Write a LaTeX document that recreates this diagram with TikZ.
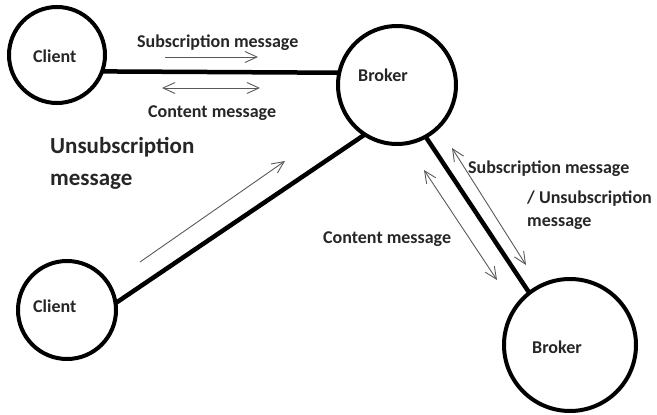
\documentclass[tikz,border=0pt]{standalone}
\usepackage{fontspec}
\setmainfont{Carlito}
\usetikzlibrary{arrows.meta}
\begin{document}
\begin{tikzpicture}[x=1pt,y=-1pt,
  peer/.style={circle,draw=black,line width=4pt,inner sep=0pt,outer sep=0pt},
  link/.style={line width=4.5pt,draw=black},
  msg/.style={draw=black!65,line width=0.9pt},
  fwd/.style={msg,-{Straight Barb[length=12pt,width=11pt]}},
  both/.style={msg,{Straight Barb[length=12pt,width=11pt]}-{Straight Barb[length=12pt,width=11pt]}},
  lbl/.style={anchor=base west,inner sep=0pt,font=\fontsize{18}{20}\selectfont\bfseries,text=black!85},
  biglbl/.style={anchor=base west,inner sep=0pt,font=\fontsize{23}{32}\selectfont\bfseries,text=black!85,align=left}
]
\useasboundingbox (0,0) rectangle (657,415);

% nodes
\node[peer,minimum size=96pt] (c1) at (57,55) {};
\node[peer,minimum size=118pt] (b1) at (397,85) {};
\node[peer,minimum size=98pt] (c2) at (67,310) {};
\node[peer,minimum size=132pt] (b2) at (570,345) {};

% node captions
\node[lbl] (c1t) at (33,62) {Client};
\node[lbl] (b1t) at (358,81) {Broker};
\node[lbl] (c2t) at (33,312) {Client};
\node[lbl] (b2t) at (532,353) {Broker};

% links
\draw[link] (c1.-20) -- (b1.168);
\draw[link] (c2.8) -- (b1.237);
\draw[link] (b1.-61) -- (b2.128);

% message arrows
\coordinate (s1a) at (165,57);  \coordinate (s1b) at (258,57);
\coordinate (m1a) at (162,88);  \coordinate (m1b) at (260,88);
\coordinate (u2a) at (140,262); \coordinate (u2b) at (285,161);
\coordinate (m3a) at (424,170); \coordinate (m3b) at (497,280);
\coordinate (s3a) at (452,148); \coordinate (s3b) at (526,265);
\draw[fwd] (s1a) -- (s1b);
\draw[both] (m1a) -- (m1b);
\draw[fwd] (u2a) -- (u2b);
\draw[both] (m3a) -- (m3b);
\draw[both] (s3a) -- (s3b);

% message labels
\node[lbl] (l1) at (137,47) {Subscription message};
\node[lbl] (l2) at (148,117) {Content message};
\node[biglbl] (l3) at (50,185) {Unsubscription\\message};
\node[lbl] (l4) at (468,173) {Subscription message};
\node[lbl] (l5) at (527,203) {/ Unsubscription};
\node[lbl] (l6) at (527,226) {message};
\node[lbl] (l7) at (323,243) {Content message};
\end{tikzpicture}
\end{document}
